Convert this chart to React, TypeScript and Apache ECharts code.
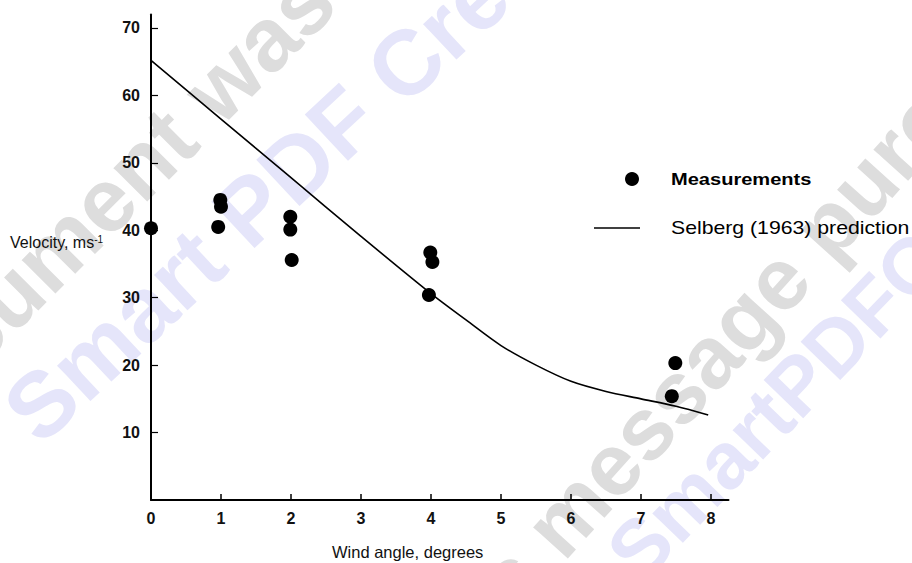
import React, { useEffect, useRef } from "react";
import * as echarts from "echarts";

// Measurements (wind angle in degrees, velocity in m/s)
const measAngle = [0, 0.96, 0.99, 1.0, 1.99, 1.99, 2.01, 3.99, 4.02, 3.97, 7.49, 7.44];
const measVelocity = [40.3, 40.5, 44.5, 43.5, 42.0, 40.1, 35.6, 36.7, 35.3, 30.4, 20.3, 15.4];

// Selberg (1963) prediction curve
const predAngle = [0, 1, 2, 3, 4, 4.5, 5, 5.5, 6, 6.5, 7, 7.5, 7.96];
const predVelocity = [65.2, 56.5, 47.8, 39.1, 30.6, 26.7, 22.9, 20.0, 17.6, 16.1, 15.0, 13.9, 12.6];

const xTickLabels = [0, 1, 2, 3, 4, 5, 6, 7, 8];
const xTicks = [1, 2, 3, 4, 5, 6, 7, 8];
const yTickLabels = [10, 20, 30, 40, 50, 60, 70];

const FONT = "'Liberation Sans', Arial, Helvetica, sans-serif";
const GRAY_WM = "#dddddd";
const BLUE_WM = "#e5e5fa";

function wm(text: string, x: number, y: number, deg: number, size: number, color: string) {
  return {
    type: "text",
    x,
    y,
    rotation: (deg * Math.PI) / 180,
    z: 0,
    silent: true,
    style: {
      text,
      fill: color,
      font: `bold ${size}px ${FONT}`,
      textAlign: "left",
      textVerticalAlign: "middle",
    },
  };
}

export default function App() {
  const ref = useRef<HTMLDivElement>(null);

  useEffect(() => {
    if (!ref.current) return;
    const chart = echarts.init(ref.current, null, { renderer: "svg" });
    const option: any = {
      animation: false,
      backgroundColor: "#ffffff",
      grid: { left: 151, right: 183.5, top: 14.5, bottom: 63 },
      xAxis: {
        type: "value",
        min: 0,
        max: 8.25,
        interval: 1,
        axisLine: { show: true, lineStyle: { color: "#000", width: 2 } },
        axisTick: { show: true, inside: true, length: 6, customValues: xTicks, lineStyle: { color: "#000", width: 1.5 } },
        axisLabel: {
          customValues: xTickLabels,
          margin: 10,
          color: "#111",
          fontSize: 16,
          fontWeight: "bold",
          fontFamily: FONT,
        },
        splitLine: { show: false },
      },
      yAxis: {
        type: "value",
        min: 0,
        max: 72,
        interval: 10,
        axisLine: { show: true, onZero: false, lineStyle: { color: "#000", width: 2 } },
        axisTick: { show: true, inside: true, length: 7, customValues: yTickLabels, lineStyle: { color: "#000", width: 1.2 } },
        axisLabel: {
          customValues: yTickLabels,
          margin: 11,
          color: "#111",
          fontSize: 16,
          fontWeight: "bold",
          fontFamily: FONT,
        },
        splitLine: { show: false },
      },
      series: [
        {
          name: "Selberg (1963) prediction",
          type: "line",
          data: predAngle.map((a, i) => [a, predVelocity[i]]),
          smooth: 0.3,
          showSymbol: false,
          symbol: "none",
          lineStyle: { color: "#000", width: 1.6 },
          z: 3,
        },
        {
          name: "Measurements",
          type: "scatter",
          data: measAngle.map((a, i) => [a, measVelocity[i]]),
          symbol: "circle",
          symbolSize: 14,
          itemStyle: { color: "#000", opacity: 1 },
          z: 4,
        },
      ],
      graphic: [
        // watermark
        wm("document was created with", -123, 428, 45, 90, GRAY_WM),
        wm("Smart PDF Creator", 19, 424, 43, 92, BLUE_WM),
        wm("this message purchase the", 420, 677, 48, 88, GRAY_WM),
        wm("www.SmartPDFCreator.com", 479, 714, 46, 80, BLUE_WM),
        // axis titles
        {
          type: "text",
          left: 10,
          top: 234,
          z: 100,
          style: {
            text: "{a|Velocity, ms}{b|-1}",
            rich: {
              a: { fontSize: 16, fontFamily: FONT, fill: "#111", verticalAlign: "bottom" },
              b: { fontSize: 10, fontFamily: FONT, fill: "#111", verticalAlign: "top" },
            },
          },
        },
        {
          type: "text",
          x: 332,
          y: 552,
          z: 100,
          style: {
            text: "Wind angle, degrees",
            fill: "#111",
            font: `16.5px ${FONT}`,
            textAlign: "left",
            textVerticalAlign: "middle",
          },
        },
        // legend
        {
          type: "circle",
          z: 100,
          shape: { cx: 632, cy: 179, r: 7 },
          style: { fill: "#000" },
        },
        {
          type: "text",
          x: 671,
          y: 179,
          scaleX: 1.18,
          z: 100,
          style: {
            text: "Measurements",
            fill: "#000",
            font: `bold 17px ${FONT}`,
            textAlign: "left",
            textVerticalAlign: "middle",
          },
        },
        {
          type: "line",
          z: 100,
          shape: { x1: 594, y1: 228, x2: 640, y2: 228 },
          style: { stroke: "#000", lineWidth: 1.5 },
        },
        {
          type: "text",
          x: 671,
          y: 228,
          scaleX: 1.18,
          z: 100,
          style: {
            text: "Selberg (1963) prediction",
            fill: "#000",
            font: `18px ${FONT}`,
            textAlign: "left",
            textVerticalAlign: "middle",
          },
        },
      ],
    };
    chart.setOption(option);
    return () => chart.dispose();
  }, []);

  return (
    <div
      ref={ref}
      style={{ position: "fixed", left: 0, top: 0, width: 912, height: 563, background: "#fff" }}
    />
  );
}
